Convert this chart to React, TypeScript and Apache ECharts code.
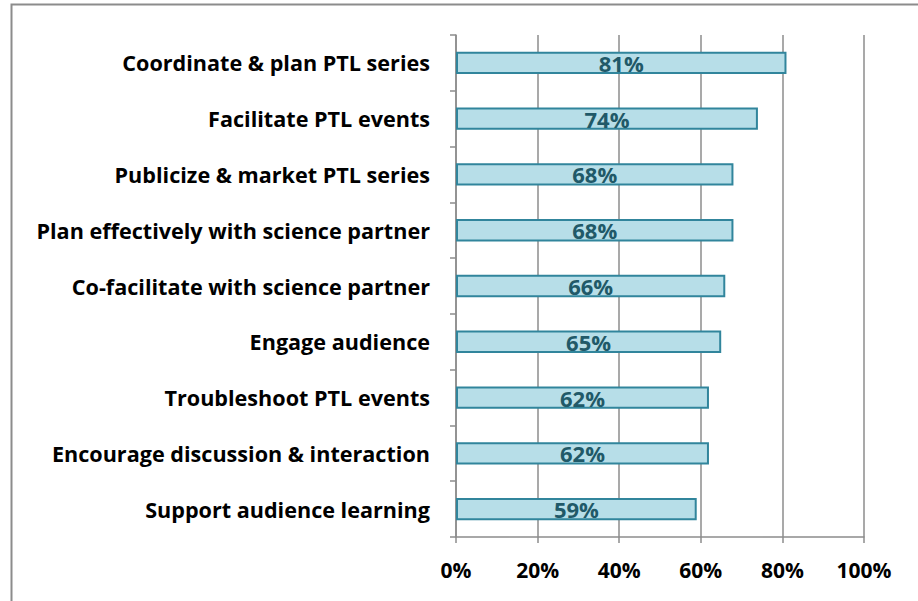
import React, { useEffect, useRef } from "react";
import * as echarts from "echarts";

const categories = [
  "Coordinate & plan PTL series",
  "Facilitate PTL events",
  "Publicize & market PTL series",
  "Plan effectively with science partner",
  "Co-facilitate with science partner",
  "Engage audience",
  "Troubleshoot PTL events",
  "Encourage discussion & interaction",
  "Support audience learning",
];
const values = [81, 74, 68, 68, 66, 65, 62, 62, 59];
const xTicks = { min: 0, max: 100, interval: 20 };

const FONT = "'Open Sans', sans-serif";

export default function App() {
  const ref = useRef<HTMLDivElement>(null);
  useEffect(() => {
    if (!ref.current) return;
    const chart = echarts.init(ref.current, null, { renderer: "svg" });
    chart.setOption({
      animation: false,
      backgroundColor: "#ffffff",
      graphic: [
        {
          type: "rect",
          shape: { x: 11.5, y: 4.5, width: 920, height: 620 },
          style: { fill: "none", stroke: "#8c8c8c", lineWidth: 2 },
          silent: true,
        },
      ],
      grid: { left: 456, right: 54, top: 35, bottom: 64, containLabel: false },
      xAxis: {
        type: "value",
        min: xTicks.min,
        max: xTicks.max,
        interval: xTicks.interval,
        axisLine: { show: true, lineStyle: { color: "#8c8c8c", width: 1.5 } },
        axisTick: { show: true, length: 6, lineStyle: { color: "#8c8c8c", width: 1.5 } },
        splitLine: { show: true, lineStyle: { color: "#8c8c8c", width: 1.5 } },
        axisLabel: {
          formatter: "{value}%",
          color: "#000",
          fontWeight: "bold",
          fontSize: 21,
          fontFamily: FONT,
          margin: 22,
        },
      },
      yAxis: {
        type: "category",
        data: categories,
        inverse: true,
        axisLine: { show: true, lineStyle: { color: "#8c8c8c", width: 1.5 } },
        axisTick: { show: true, length: 6, lineStyle: { color: "#8c8c8c", width: 1.5 } },
        splitLine: { show: false },
        axisLabel: {
          color: "#000",
          fontWeight: "bold",
          fontSize: 21.6,
          fontFamily: FONT,
          margin: 26,
        },
      },
      series: [
        {
          type: "bar",
          data: values,
          barWidth: "40%",
          itemStyle: { color: "#b7dee8", borderColor: "#31859c", borderWidth: 2 },
          label: {
            show: true,
            position: "inside",
            formatter: "{c}%",
            color: "#215968",
            fontWeight: "bold",
            fontSize: 22,
            fontFamily: FONT,
          },
        },
      ],
    });
    return () => chart.dispose();
  }, []);
  return (
    <div
      ref={ref}
      style={{ position: "fixed", left: 0, top: 0, width: 918, height: 601 }}
    />
  );
}
